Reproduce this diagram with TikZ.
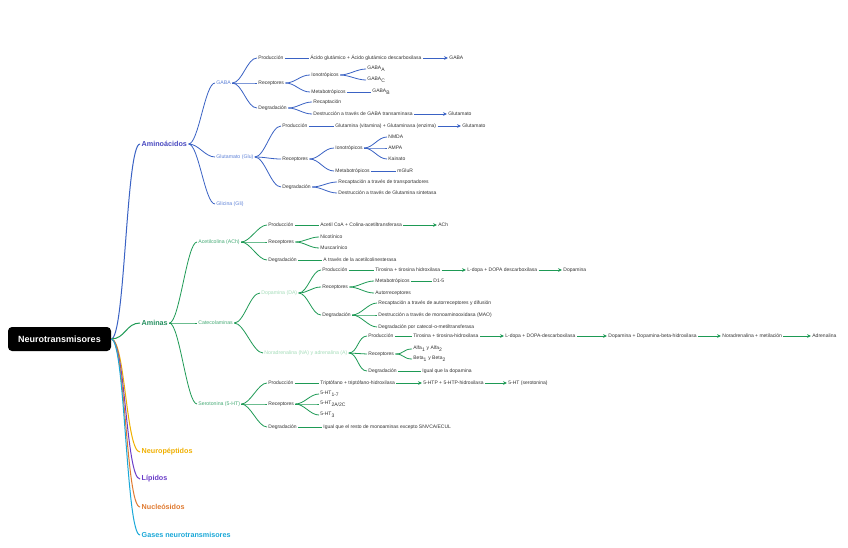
\documentclass[tikz,border=0pt]{standalone}
\usepackage{fontspec}
\setmainfont{Liberation Sans}
\usetikzlibrary{arrows.meta}
\definecolor{bline}{HTML}{3A62C4}
\definecolor{btxt}{HTML}{4848C0}
\definecolor{bsub}{HTML}{5E82D8}
\definecolor{gline}{HTML}{1E9A55}
\definecolor{gtxt}{HTML}{259060}
\definecolor{gsub}{HTML}{45AA75}
\definecolor{gpale}{HTML}{A5DDBA}
\definecolor{ytxt}{HTML}{F0B000}
\definecolor{ptxt}{HTML}{6A3CC8}
\definecolor{otxt}{HTML}{E07A30}
\definecolor{ctxt}{HTML}{1AA8D8}
\definecolor{dtxt}{HTML}{333333}
\tikzset{
  lbl/.style={anchor=west, inner sep=1.2pt, font=\fontsize{5}{6}\selectfont, text=dtxt},
  sub/.style={lbl, font=\fontsize{5.2}{6}\selectfont},
  top/.style={anchor=west, inner sep=1.5pt, font=\fontsize{7.2}{8}\selectfont\bfseries},
  rootbox/.style={fill=black, text=white, rounded corners=4pt, minimum width=103pt, minimum height=24pt, font=\fontsize{9}{10}\selectfont\bfseries},
  bl/.style={draw=bline, line width=0.8pt},
  gl/.style={draw=gline, line width=0.8pt},
  arr/.style={-{Stealth[length=4pt,width=3.6pt]}},
  cv/.style={out=0, in=180, distance=#1},
  cv/.default=10pt
}
\begin{document}
\begin{tikzpicture}[x=1pt,y=-1pt]
\useasboundingbox[fill=white] (0,0) rectangle (848,548);

% root
\node[rootbox] (root) at (59.5,339) {Neurotransmisores};

% level 1
\node[top, text=btxt] (aa) at (140,144) {Aminoácidos};
\node[top, text=gtxt] (am) at (140,323) {Aminas};
\node[top, text=ytxt] (np) at (140,452) {Neuropéptidos};
\node[top, text=ptxt] (li) at (140,479) {Lípidos};
\node[top, text=otxt] (nu) at (140,507) {Nucleósidos};
\node[top, text=ctxt] (gs) at (140,535) {Gases neurotransmisores};

\draw[draw=bline, line width=1pt] (root.east) to[cv=14pt] (aa.west);
\draw[draw=gline, line width=1pt] (root.east) to[cv=14pt] (am.west);
\draw[draw=ytxt, line width=1pt] (root.east) to[cv=14pt] (np.west);
\draw[draw=ptxt, line width=1pt] (root.east) to[cv=14pt] (li.west);
\draw[draw=otxt, line width=1pt] (root.east) to[cv=14pt] (nu.west);
\draw[draw=ctxt, line width=1pt] (root.east) to[cv=14pt] (gs.west);

% ---------------- Aminoacidos ----------------
\node[sub, text=bsub] (gaba) at (215,83) {GABA};
\node[sub, text=bsub] (glu) at (215,157) {Glutamato (Glu)};
\node[sub, text=bsub] (gli) at (215,204) {Glicina (Gli)};
\foreach \n in {gaba,glu,gli} \draw[bl] (aa.east) to[cv=10pt] (\n.west);

% GABA
\node[lbl] (gp) at (257,58) {Producción};
\node[lbl] (gr) at (257,83) {Receptores};
\node[lbl] (gd) at (257,108) {Degradación};
\foreach \n in {gp,gr,gd} \draw[bl] (gaba.east) to[cv=10pt] (\n.west);
\node[lbl] (gpt) at (309,58) {Ácido glutámico + Ácido glutámico descarboxilasa};
\node[lbl] (gpr) at (448,58) {GABA};
\draw[bl] (gp.east) -- (gpt.west);
\draw[bl,arr] (gpt.east) -- (gpr.west);
\node[lbl] (gi) at (310,75) {Ionotrópicos};
\node[lbl] (gm) at (310,92) {Metabotrópicos};
\foreach \n in {gi,gm} \draw[bl] (gr.east) to[cv=10pt] (\n.west);
\node[lbl] (gia) at (366,69) {GABA\textsubscript{A}};
\node[lbl] (gic) at (366,80) {GABA\textsubscript{C}};
\foreach \n in {gia,gic} \draw[bl] (gi.east) to[cv=9pt] (\n.west);
\node[lbl] (gmb) at (371,92) {GABA\textsubscript{B}};
\draw[bl] (gm.east) -- (gmb.west);
\node[lbl] (gdr) at (312,102) {Recaptación};
\node[lbl] (gdd) at (312,114) {Destrucción a través de GABA transaminasa};
\foreach \n in {gdr,gdd} \draw[bl] (gd.east) to[cv=9pt] (\n.west);
\node[lbl] (gdg) at (447,114) {Glutamato};
\draw[bl,arr] (gdd.east) -- (gdg.west);

% Glutamato
\node[lbl] (up) at (281,126) {Producción};
\node[lbl] (ur) at (281,159) {Receptores};
\node[lbl] (ud) at (281,187) {Degradación};
\foreach \n in {up,ur,ud} \draw[bl] (glu.east) to[cv=10pt] (\n.west);
\node[lbl] (upt) at (334,126) {Glutamina (vitamina) + Glutaminasa (enzima)};
\node[lbl] (upg) at (461,126) {Glutamato};
\draw[bl] (up.east) -- (upt.west);
\draw[bl,arr] (upt.east) -- (upg.west);
\node[lbl] (ui) at (334,148) {Ionotrópicos};
\node[lbl] (um) at (334,171) {Metabotrópicos};
\foreach \n in {ui,um} \draw[bl] (ur.east) to[cv=10pt] (\n.west);
\node[lbl] (un) at (387,137) {NMDA};
\node[lbl] (ua) at (387,148) {AMPA};
\node[lbl] (uk) at (387,159) {Kainato};
\foreach \n in {un,ua,uk} \draw[bl] (ui.east) to[cv=9pt] (\n.west);
\node[lbl] (umg) at (396,171) {mGluR};
\draw[bl] (um.east) -- (umg.west);
\node[lbl] (udr) at (337,182) {Recaptación a través de transportadores};
\node[lbl] (udd) at (337,193) {Destrucción a través de Glutamina sintetasa};
\foreach \n in {udr,udd} \draw[bl] (ud.east) to[cv=9pt] (\n.west);

% ---------------- Aminas ----------------
\node[sub, text=gsub] (ach) at (197,242) {Acetilcolina (ACh)};
\node[sub, text=gsub] (cat) at (197,323) {Catecolaminas};
\node[sub, text=gsub] (ser) at (197,404) {Serotonina (5-HT)};
\foreach \n in {ach,cat,ser} \draw[gl] (am.east) to[cv=10pt] (\n.west);

% Acetilcolina
\node[lbl] (ap) at (267,225) {Producción};
\node[lbl] (ar) at (267,242) {Receptores};
\node[lbl] (ad) at (267,260) {Degradación};
\foreach \n in {ap,ar,ad} \draw[gl] (ach.east) to[cv=9pt] (\n.west);
\node[lbl] (apt) at (319,225) {Acetil CoA + Colina-acetiltransferasa};
\node[lbl] (apa) at (437,225) {ACh};
\draw[gl] (ap.east) -- (apt.west);
\draw[gl,arr] (apt.east) -- (apa.west);
\node[lbl] (arn) at (319,237) {Nicotínico};
\node[lbl] (arm) at (319,248) {Muscarínico};
\foreach \n in {arn,arm} \draw[gl] (ar.east) to[cv=9pt] (\n.west);
\node[lbl] (adt) at (322,260) {A través de la acetilcolinesterasa};
\draw[gl] (ad.east) -- (adt.west);

% Catecolaminas
\node[sub, text=gpale] (da) at (260,293) {Dopamina (DA)};
\node[sub, text=gpale] (na) at (263,353) {Noradrenalina (NA) y adrenalina (A)};
\foreach \n in {da,na} \draw[gl] (cat.east) to[cv=10pt] (\n.west);

% Dopamina
\node[lbl] (dp) at (321,270) {Producción};
\node[lbl] (dr) at (321,287) {Receptores};
\node[lbl] (dd) at (321,315) {Degradación};
\foreach \n in {dp,dr,dd} \draw[gl] (da.east) to[cv=9pt] (\n.west);
\node[lbl] (dp1) at (374,270) {Tirosina + tirosina hidroxilasa};
\node[lbl] (dp2) at (466,270) {L-dopa + DOPA descarboxilasa};
\node[lbl] (dp3) at (562,270) {Dopamina};
\draw[gl] (dp.east) -- (dp1.west);
\draw[gl,arr] (dp1.east) -- (dp2.west);
\draw[gl,arr] (dp2.east) -- (dp3.west);
\node[lbl] (drm) at (374,281) {Metabotrópicos};
\node[lbl] (dra) at (374,293) {Autorreceptores};
\foreach \n in {drm,dra} \draw[gl] (dr.east) to[cv=9pt] (\n.west);
\node[lbl] (drd) at (432,281) {D1-5};
\draw[gl] (drm.east) -- (drd.west);
\node[lbl] (dd1) at (377,303) {Recaptación a través de autorreceptores y difusión};
\node[lbl] (dd2) at (377,315) {Destrucción a través de monoaminooxidasa (MAO)};
\node[lbl] (dd3) at (377,327) {Degradación por catecol-o-metiltransferasa};
\foreach \n in {dd1,dd2,dd3} \draw[gl] (dd.east) to[cv=9pt] (\n.west);

% Noradrenalina
\node[lbl] (np1) at (367,336) {Producción};
\node[lbl] (nr) at (367,354) {Receptores};
\node[lbl] (nd) at (367,371) {Degradación};
\foreach \n in {np1,nr,nd} \draw[gl] (na.east) to[cv=9pt] (\n.west);
\node[lbl] (nc1) at (412,336) {Tirosina + tirosina-hidroxilasa};
\node[lbl] (nc2) at (504,336) {L-dopa + DOPA-descarboxilasa};
\node[lbl] (nc3) at (607,336) {Dopamina + Dopamina-beta-hidroxilasa};
\node[lbl] (nc4) at (721,336) {Noradrenalina + metilación};
\node[lbl] (nc5) at (811,336) {Adrenalina};
\draw[gl] (np1.east) -- (nc1.west);
\draw[gl,arr] (nc1.east) -- (nc2.west);
\draw[gl,arr] (nc2.east) -- (nc3.west);
\draw[gl,arr] (nc3.east) -- (nc4.west);
\draw[gl,arr] (nc4.east) -- (nc5.west);
\node[lbl] (nra) at (412,349) {Alfa\textsubscript{1} y Alfa\textsubscript{2}};
\node[lbl] (nrb) at (412,359) {Beta\textsubscript{1} y Beta\textsubscript{2}};
\foreach \n in {nra,nrb} \draw[gl] (nr.east) to[cv=9pt] (\n.west);
\node[lbl] (ndt) at (421,371) {Igual que la dopamina};
\draw[gl] (nd.east) -- (ndt.west);

% Serotonina
\node[lbl] (sp) at (267,383) {Producción};
\node[lbl] (sr) at (267,404) {Receptores};
\node[lbl] (sd) at (267,427) {Degradación};
\foreach \n in {sp,sr,sd} \draw[gl] (ser.east) to[cv=9pt] (\n.west);
\node[lbl] (sp1) at (319,383) {Triptófano + triptófano-hidroxilasa};
\node[lbl] (sp2) at (422,383) {5-HTP + 5-HTP-hidroxilasa};
\node[lbl] (sp3) at (507,383) {5-HT (serotonina)};
\draw[gl] (sp.east) -- (sp1.west);
\draw[gl,arr] (sp1.east) -- (sp2.west);
\draw[gl,arr] (sp2.east) -- (sp3.west);
\node[lbl] (sr1) at (319,394) {5-HT\textsubscript{1-7}};
\node[lbl] (sr2) at (319,404) {5-HT\textsubscript{2A/2C}};
\node[lbl] (sr3) at (319,415) {5-HT\textsubscript{3}};
\foreach \n in {sr1,sr2,sr3} \draw[gl] (sr.east) to[cv=9pt] (\n.west);
\node[lbl] (sdt) at (322,427) {Igual que el resto de monoaminas excepto SNVCA/ECUL};
\draw[gl] (sd.east) -- (sdt.west);
\end{tikzpicture}
\end{document}
